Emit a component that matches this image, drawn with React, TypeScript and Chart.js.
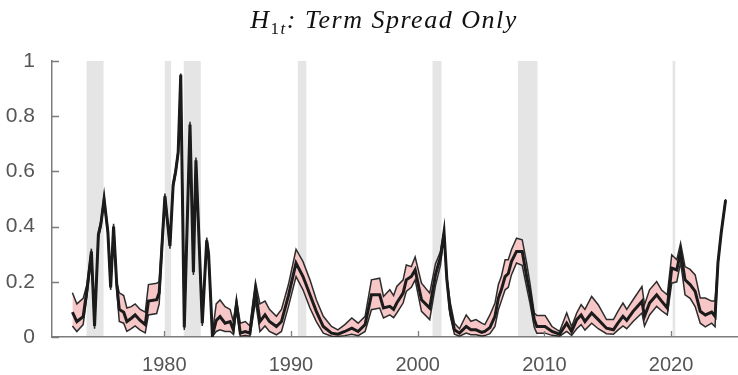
import { useEffect, useRef } from "react";
import { Chart, registerables } from "chart.js";

Chart.register(...registerables);

// Probability of regime H1 (term spread only): posterior median with band
const YEARS = [
  1972.75, 1973.1, 1973.6, 1973.9, 1974.25, 1974.5, 1974.8, 1975.0, 1975.25, 1975.55,
  1975.77, 1976.0, 1976.25, 1976.45, 1976.8, 1977.05, 1977.4, 1977.7, 1978.1, 1978.5,
  1978.75, 1979.4, 1979.6, 1980.05, 1980.45, 1980.7, 1980.9, 1981.1, 1981.3, 1981.58,
  1982.03, 1982.3, 1982.5, 1983.0, 1983.35, 1983.5, 1983.8, 1984.1, 1984.4, 1984.8,
  1985.2, 1985.45, 1985.7, 1986.0, 1986.4, 1986.76, 1987.2, 1987.55, 1987.95, 1988.3,
  1988.85, 1989.25, 1989.8, 1990.4, 1990.95, 1991.5, 1992.0, 1992.55, 1993.2, 1993.7,
  1994.25, 1994.8, 1995.3, 1995.85, 1996.35, 1997.0, 1997.3, 1997.8, 1998.1, 1998.35,
  1998.85, 1999.1, 1999.5, 1999.8, 2000.3, 2000.95, 2001.4, 2001.8, 2002.08, 2002.3,
  2002.55, 2002.9, 2003.3, 2003.83, 2004.2, 2004.6, 2005.05, 2005.3, 2005.7, 2006.1,
  2006.37, 2006.6, 2006.9, 2007.15, 2007.4, 2007.8, 2008.25, 2008.6, 2008.86, 2009.2,
  2009.4, 2010.05, 2010.6, 2011.2, 2011.76, 2012.15, 2012.55, 2012.9, 2013.2, 2013.73,
  2014.25, 2014.9, 2015.45, 2015.8, 2016.2, 2016.5, 2017.0, 2017.7, 2017.9, 2018.3,
  2018.86, 2019.25, 2019.7, 2020.05, 2020.45, 2020.75, 2021.1, 2021.5, 2021.9, 2022.3,
  2022.7, 2023.2, 2023.47, 2023.7, 2023.95, 2024.3,
];

const MEDIAN = [
  0.09, 0.056, 0.074, 0.17, 0.31, 0.04, 0.37, 0.41, 0.5, 0.38,
  0.18, 0.4, 0.19, 0.1, 0.09, 0.056, 0.068, 0.08, 0.06, 0.045,
  0.13, 0.135, 0.16, 0.51, 0.33, 0.55, 0.6, 0.67, 0.95, 0.035,
  0.77, 0.235, 0.64, 0.05, 0.35, 0.3, 0.005, 0.06, 0.074, 0.05,
  0.056, 0.026, 0.12, 0.014, 0.02, 0.014, 0.17, 0.056, 0.08, 0.056,
  0.038, 0.056, 0.15, 0.268, 0.219, 0.153, 0.093, 0.038, 0.014, 0.01,
  0.02, 0.032, 0.02, 0.045, 0.153, 0.153, 0.105, 0.111, 0.1, 0.123,
  0.159, 0.207, 0.219, 0.243, 0.135, 0.105, 0.225, 0.29, 0.38, 0.21,
  0.1, 0.026, 0.014, 0.038, 0.026, 0.026, 0.017, 0.02, 0.034, 0.075,
  0.141, 0.171, 0.219, 0.23, 0.273, 0.31, 0.31, 0.219, 0.159, 0.063,
  0.038, 0.038, 0.02, 0.01, 0.05, 0.02, 0.063, 0.08, 0.056, 0.087,
  0.063, 0.032, 0.026, 0.05, 0.075, 0.06, 0.093, 0.129, 0.075, 0.123,
  0.153, 0.13, 0.105, 0.25, 0.243, 0.31, 0.207, 0.19, 0.165, 0.093,
  0.08, 0.09, 0.075, 0.27, 0.376, 0.496,
];

const UPPER = [
  0.16, 0.12, 0.14, 0.19, 0.32, 0.05, 0.38, 0.42, 0.51, 0.39,
  0.19, 0.41, 0.2, 0.16, 0.15, 0.105, 0.11, 0.12, 0.1, 0.09,
  0.19, 0.195, 0.2, 0.52, 0.34, 0.56, 0.61, 0.68, 0.955, 0.045,
  0.78, 0.245, 0.65, 0.06, 0.36, 0.31, 0.015, 0.12, 0.134, 0.11,
  0.1, 0.056, 0.135, 0.05, 0.056, 0.04, 0.2, 0.12, 0.13, 0.1,
  0.075, 0.1, 0.19, 0.318, 0.273, 0.207, 0.135, 0.075, 0.038, 0.026,
  0.045, 0.069, 0.05, 0.075, 0.207, 0.213, 0.147, 0.171, 0.15, 0.183,
  0.207, 0.261, 0.255, 0.29, 0.195, 0.159, 0.265, 0.31, 0.385, 0.22,
  0.13, 0.05, 0.03, 0.08, 0.057, 0.063, 0.05, 0.045, 0.08, 0.123,
  0.19, 0.219, 0.28, 0.28, 0.316, 0.358, 0.352, 0.268, 0.195, 0.087,
  0.078, 0.078, 0.038, 0.02, 0.087, 0.038, 0.087, 0.117, 0.1, 0.147,
  0.117, 0.063, 0.063, 0.093, 0.123, 0.1, 0.135, 0.183, 0.117, 0.171,
  0.201, 0.17, 0.153, 0.298, 0.28, 0.34, 0.255, 0.245, 0.225, 0.141,
  0.141, 0.13, 0.13, 0.275, 0.381, 0.5,
];

const LOWER = [
  0.04, 0.02, 0.045, 0.15, 0.29, 0.03, 0.36, 0.4, 0.49, 0.37,
  0.17, 0.39, 0.17, 0.056, 0.05, 0.02, 0.03, 0.04, 0.025, 0.015,
  0.08, 0.085, 0.12, 0.5, 0.32, 0.54, 0.59, 0.66, 0.945, 0.025,
  0.76, 0.225, 0.63, 0.04, 0.34, 0.29, 0.002, 0.02, 0.026, 0.02,
  0.02, 0.01, 0.1, 0.003, 0.005, 0.003, 0.13, 0.02, 0.04, 0.02,
  0.008, 0.02, 0.11, 0.219, 0.171, 0.105, 0.056, 0.014, 0.003, 0.002,
  0.005, 0.01, 0.005, 0.02, 0.099, 0.105, 0.069, 0.08, 0.07, 0.087,
  0.123, 0.165, 0.18, 0.207, 0.093, 0.063, 0.185, 0.26, 0.37, 0.2,
  0.08, 0.01, 0.003, 0.014, 0.008, 0.008, 0.004, 0.005, 0.012, 0.038,
  0.099, 0.13, 0.171, 0.18, 0.225, 0.268, 0.26, 0.18, 0.123, 0.035,
  0.014, 0.014, 0.006, 0.003, 0.02, 0.006, 0.03, 0.045, 0.025, 0.05,
  0.03, 0.012, 0.01, 0.025, 0.04, 0.03, 0.056, 0.087, 0.04, 0.08,
  0.111, 0.095, 0.08, 0.195, 0.2, 0.27, 0.153, 0.14, 0.11, 0.05,
  0.037, 0.05, 0.037, 0.265, 0.371, 0.492,
];

// NBER recession periods (start, end) in fractional years
const RECESSION_START = [1973.87, 1980.04, 1981.54, 1990.54, 2001.17, 2007.92, 2020.12];
const RECESSION_END = [1975.21, 1980.54, 1982.88, 1991.21, 2001.88, 2009.46, 2020.33];

const X_TICKS = [1980, 1990, 2000, 2010, 2020];
const Y_TICKS = [0, 0.2, 0.4, 0.6, 0.8, 1];

const X_MIN = 1971.14;
const X_MAX = 2025.28;

const AXIS_COLOR = "#7c7c7c";
const TICK_TEXT = "#555555";

// Grey recession shading, painted before axes and series
const recessionPlugin = {
  id: "recessions",
  beforeDraw(chart: any) {
    const { ctx, chartArea, scales } = chart;
    if (!chartArea) return;
    ctx.save();
    ctx.fillStyle = "#e5e5e5";
    RECESSION_START.forEach((s, i) => {
      const x0 = scales.x.getPixelForValue(s);
      const x1 = scales.x.getPixelForValue(RECESSION_END[i]);
      ctx.fillRect(x0, chartArea.top, x1 - x0, chartArea.bottom - chartArea.top);
    });
    ctx.restore();
  },
};

// MATLAB-style inward tick marks on the bottom and left axes
const tickMarkPlugin = {
  id: "inwardTicks",
  afterDatasetsDraw(chart: any) {
    const { ctx, chartArea, scales } = chart;
    ctx.save();
    ctx.strokeStyle = AXIS_COLOR;
    ctx.lineWidth = 1.3;
    ctx.beginPath();
    Y_TICKS.forEach((v) => {
      const y = Math.round(scales.y.getPixelForValue(v)) + 0.5;
      ctx.moveTo(chartArea.left, y);
      ctx.lineTo(chartArea.left + 7, y);
    });
    X_TICKS.forEach((v) => {
      const x = Math.round(scales.x.getPixelForValue(v)) + 0.5;
      ctx.moveTo(x, chartArea.bottom);
      ctx.lineTo(x, chartArea.bottom - 6);
    });
    ctx.stroke();
    ctx.restore();
  },
};

// Title with a subscripted regime index: H_{1t}: Term Spread Only
const titlePlugin = {
  id: "subscriptTitle",
  afterDraw(chart: any) {
    const ctx = chart.ctx;
    const fam = '"Liberation Serif", "Times New Roman", serif';
    const parts = [
      { t: "H", f: `italic 26px ${fam}`, dy: 0 },
      { t: "1", f: `17px ${fam}`, dy: 6 },
      { t: "t", f: `italic 17px ${fam}`, dy: 6 },
      { t: ": Term Spread Only", f: `italic 26px ${fam}`, dy: 0 },
    ];
    ctx.save();
    ctx.fillStyle = "#111111";
    ctx.textBaseline = "alphabetic";
    (ctx as any).letterSpacing = "1.5px";
    let total = 0;
    const widths = parts.map((p) => {
      ctx.font = p.f;
      const w = ctx.measureText(p.t).width;
      total += w;
      return w;
    });
    let x = 384 - total / 2;
    const baseline = 28;
    parts.forEach((p, i) => {
      ctx.font = p.f;
      ctx.fillText(p.t, x, baseline + p.dy);
      x += widths[i];
    });
    ctx.restore();
  },
};

export default function App() {
  const ref = useRef<HTMLCanvasElement>(null);

  useEffect(() => {
    const pts = (vals: number[]) => YEARS.map((x, i) => ({ x, y: vals[i] }));
    const xFont = { family: '"Liberation Sans", Arial, sans-serif', size: 20 };
    const yFont = { family: '"Liberation Sans", Arial, sans-serif', size: 21 };

    const chart = new Chart(ref.current as HTMLCanvasElement, {
      type: "line",
      data: {
        datasets: [
          {
            label: "upper",
            data: pts(UPPER),
            borderColor: "#2c2c2c",
            borderWidth: 1.5,
            backgroundColor: "#f7c6c6",
            fill: "+1",
            pointRadius: 0,
            tension: 0,
            order: 2,
          },
          {
            label: "lower",
            data: pts(LOWER),
            borderColor: "#2c2c2c",
            borderWidth: 1.5,
            fill: false,
            pointRadius: 0,
            tension: 0,
            order: 1,
          },
          {
            label: "median",
            data: pts(MEDIAN),
            borderColor: "#1b1b1b",
            borderWidth: 3,
            fill: false,
            pointRadius: 0,
            tension: 0,
            order: 0,
          },
        ],
      },
      options: {
        animation: false,
        responsive: true,
        maintainAspectRatio: false,
        layout: { padding: { top: 61, right: 0, left: 0, bottom: 0 } },
        plugins: {
          legend: { display: false },
          tooltip: { enabled: false },
          title: { display: false },
          filler: { drawTime: "beforeDatasetsDraw" },
        } as any,
        scales: {
          x: {
            type: "linear",
            min: X_MIN,
            max: X_MAX,
            grid: { display: false },
            border: { display: true, color: AXIS_COLOR, width: 1.5 },
            ticks: {
              color: TICK_TEXT,
              font: xFont,
              padding: 8,
              maxRotation: 0,
              autoSkip: false,
              callback: (v: any) => String(v),
            },
            afterBuildTicks: (s: any) => {
              s.ticks = X_TICKS.map((value) => ({ value }));
            },
            afterFit: (s: any) => {
              s.height = 38;
            },
          },
          y: {
            min: 0,
            max: 1,
            grid: { display: false },
            border: { display: true, color: AXIS_COLOR, width: 1.5 },
            ticks: {
              color: TICK_TEXT,
              font: yFont,
              padding: 9,
              autoSkip: false,
              callback: (v: any) => String(v),
            },
            afterBuildTicks: (s: any) => {
              s.ticks = Y_TICKS.map((value) => ({ value }));
            },
            afterFit: (s: any) => {
              s.width = 52;
            },
          },
        },
      },
      plugins: [recessionPlugin, tickMarkPlugin, titlePlugin],
    });

    return () => chart.destroy();
  }, []);

  return (
    <div style={{ position: "fixed", left: 0, top: 0, width: 738, height: 375, background: "#ffffff" }}>
      <canvas ref={ref} />
    </div>
  );
}
